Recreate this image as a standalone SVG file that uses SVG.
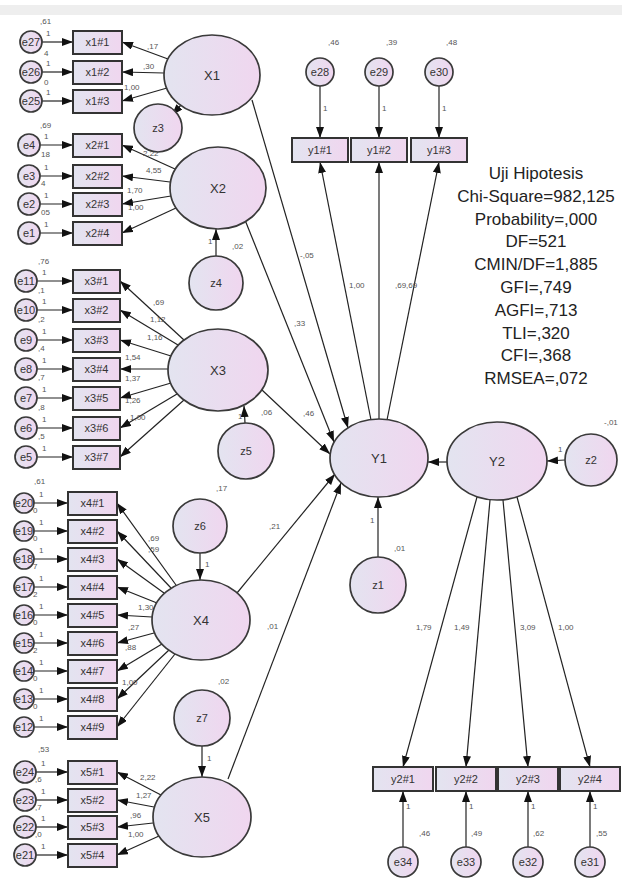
<svg xmlns="http://www.w3.org/2000/svg" width="622" height="879" viewBox="0 0 622 879">
<style>
.n{stroke:#3a3a3a;stroke-width:1.7;fill:url(#g)}
.b{stroke:#333;stroke-width:2;fill:url(#g)}
.c{stroke:#222;stroke-width:1.2;fill:none;marker-end:url(#a)}
.t{font-family:"Liberation Sans",Arial,sans-serif;font-size:11px;fill:#333;text-anchor:middle}
.L{font-family:"Liberation Sans",Arial,sans-serif;font-size:13px;fill:#333;text-anchor:middle}
.s{font-family:"Liberation Sans",Arial,sans-serif;font-size:8px;fill:#555}
.f{font-family:"Liberation Sans",Arial,sans-serif;font-size:17px;fill:#222;text-anchor:middle}
</style>
<defs>
<linearGradient id="g" x1="0" y1="0" x2="1" y2="0"><stop offset="0" stop-color="#e3e4f0"/><stop offset="1" stop-color="#f0d6ef"/></linearGradient>
<marker id="a" markerWidth="11" markerHeight="8" refX="11" refY="4" orient="auto" markerUnits="userSpaceOnUse"><path d="M0,0 L11,4 L0,8 z" fill="#111"/></marker>
</defs>
<rect x="0" y="5" width="622" height="10" fill="#eeeeee"/>

<g id="connectors">
<line class="c" x1="42" y1="42" x2="73" y2="42"/><line class="c" x1="42" y1="72" x2="73" y2="72"/><line class="c" x1="42" y1="101" x2="73" y2="101"/>
<line class="c" x1="40" y1="145" x2="73" y2="145"/><line class="c" x1="40" y1="176" x2="73" y2="176"/><line class="c" x1="40" y1="204" x2="73" y2="204"/><line class="c" x1="40" y1="233" x2="73" y2="233"/>
<line class="c" x1="37" y1="281" x2="73" y2="281"/><line class="c" x1="37" y1="310" x2="73" y2="310"/><line class="c" x1="37" y1="340" x2="73" y2="340"/><line class="c" x1="37" y1="369" x2="73" y2="369"/><line class="c" x1="37" y1="398" x2="73" y2="398"/><line class="c" x1="37" y1="428" x2="73" y2="428"/><line class="c" x1="37" y1="457" x2="73" y2="457"/>
<line class="c" x1="34" y1="503" x2="68" y2="503"/><line class="c" x1="34" y1="531" x2="68" y2="531"/><line class="c" x1="34" y1="559" x2="68" y2="559"/><line class="c" x1="34" y1="587" x2="68" y2="587"/><line class="c" x1="34" y1="615" x2="68" y2="615"/><line class="c" x1="34" y1="643" x2="68" y2="643"/><line class="c" x1="34" y1="671" x2="68" y2="671"/><line class="c" x1="34" y1="699" x2="68" y2="699"/><line class="c" x1="34" y1="727" x2="68" y2="727"/>
<line class="c" x1="36" y1="772" x2="68" y2="772"/><line class="c" x1="36" y1="800" x2="68" y2="800"/><line class="c" x1="36" y1="827" x2="68" y2="827"/><line class="c" x1="36" y1="855" x2="68" y2="855"/>
<line class="c" x1="168" y1="59" x2="122" y2="42"/><line class="c" x1="164" y1="73" x2="122" y2="72"/><line class="c" x1="167" y1="88" x2="122" y2="101"/>
<line class="c" x1="175" y1="169" x2="122" y2="145"/><line class="c" x1="170" y1="182" x2="122" y2="176"/><line class="c" x1="171" y1="196" x2="122" y2="204"/><line class="c" x1="176" y1="208" x2="122" y2="233"/>
<line class="c" x1="184" y1="340" x2="120" y2="281"/><line class="c" x1="178" y1="345" x2="120" y2="310"/><line class="c" x1="171" y1="356" x2="120" y2="340"/><line class="c" x1="168" y1="369" x2="120" y2="369"/><line class="c" x1="171" y1="383" x2="120" y2="398"/><line class="c" x1="177" y1="394" x2="120" y2="428"/><line class="c" x1="184" y1="400" x2="120" y2="457"/>
<line class="c" x1="176" y1="585" x2="117" y2="503"/><line class="c" x1="171" y1="588" x2="117" y2="531"/><line class="c" x1="164" y1="593" x2="117" y2="559"/><line class="c" x1="157" y1="603" x2="117" y2="587"/><line class="c" x1="152" y1="617" x2="117" y2="615"/><line class="c" x1="154" y1="633" x2="117" y2="643"/><line class="c" x1="162" y1="644" x2="117" y2="671"/><line class="c" x1="169" y1="650" x2="117" y2="699"/><line class="c" x1="175" y1="654" x2="117" y2="727"/>
<line class="c" x1="161" y1="795" x2="117" y2="772"/><line class="c" x1="154" y1="807" x2="117" y2="800"/><line class="c" x1="153" y1="823" x2="117" y2="827"/><line class="c" x1="159" y1="836" x2="117" y2="855"/>
<line class="c" x1="181" y1="105" x2="172" y2="115"/>
<line class="c" x1="216" y1="256" x2="216" y2="229"/>
<line class="c" x1="245" y1="423" x2="244" y2="406"/>
<line class="c" x1="200" y1="553" x2="200" y2="580"/>
<line class="c" x1="202" y1="746" x2="202" y2="777"/>
<line class="c" x1="378" y1="557" x2="378" y2="497"/>
<line class="c" x1="565" y1="460" x2="547" y2="461"/>
<line class="c" x1="447" y1="462" x2="428" y2="462"/>
<line class="c" x1="252" y1="100" x2="348" y2="428"/>
<line class="c" x1="245" y1="220" x2="334" y2="442"/>
<line class="c" x1="262" y1="390" x2="330" y2="454"/>
<line class="c" x1="237" y1="593" x2="335" y2="474"/>
<line class="c" x1="228" y1="779" x2="341" y2="483"/>
<line class="c" x1="371" y1="420" x2="320" y2="162"/>
<line class="c" x1="379" y1="419" x2="379" y2="162"/>
<line class="c" x1="387" y1="420" x2="439" y2="162"/>
<line class="c" x1="320" y1="86" x2="320" y2="138"/>
<line class="c" x1="379" y1="86" x2="379" y2="138"/>
<line class="c" x1="439" y1="86" x2="439" y2="138"/>
<line class="c" x1="477" y1="497" x2="403" y2="767"/>
<line class="c" x1="490" y1="500" x2="466" y2="767"/>
<line class="c" x1="503" y1="500" x2="528" y2="767"/>
<line class="c" x1="517" y1="497" x2="590" y2="767"/>
<line class="c" x1="403" y1="847" x2="403" y2="791"/>
<line class="c" x1="466" y1="847" x2="466" y2="791"/>
<line class="c" x1="528" y1="847" x2="528" y2="791"/>
<line class="c" x1="590" y1="847" x2="590" y2="791"/>
</g>

<g id="path-labels">
<text class="s" x="46" y="36">1</text><text class="s" x="46" y="66">1</text><text class="s" x="46" y="95">1</text>
<text class="s" x="44" y="139">1</text><text class="s" x="44" y="170">1</text><text class="s" x="44" y="198">1</text><text class="s" x="44" y="227">1</text>
<text class="s" x="42" y="275">1</text><text class="s" x="42" y="304">1</text><text class="s" x="42" y="334">1</text><text class="s" x="42" y="363">1</text><text class="s" x="42" y="392">1</text><text class="s" x="42" y="422">1</text><text class="s" x="42" y="451">1</text>
<text class="s" x="39" y="497">1</text><text class="s" x="39" y="525">1</text><text class="s" x="39" y="553">1</text><text class="s" x="39" y="581">1</text><text class="s" x="39" y="609">1</text><text class="s" x="39" y="637">1</text><text class="s" x="39" y="665">1</text><text class="s" x="39" y="693">1</text><text class="s" x="39" y="721">1</text>
<text class="s" x="41" y="766">1</text><text class="s" x="41" y="794">1</text><text class="s" x="41" y="821">1</text><text class="s" x="41" y="849">1</text>
<text class="s" x="147" y="49">,17</text><text class="s" x="143" y="69">,30</text><text class="s" x="124" y="90">1,00</text>
<text class="s" x="143" y="156">2,22</text><text class="s" x="146" y="173">4,55</text><text class="s" x="127" y="193">1,70</text><text class="s" x="128" y="210">1,00</text>
<text class="s" x="153" y="305">,69</text><text class="s" x="150" y="322">1,12</text><text class="s" x="147" y="340">1,16</text><text class="s" x="125" y="360">1,54</text><text class="s" x="125" y="381">1,37</text><text class="s" x="125" y="403">1,26</text><text class="s" x="130" y="420">1,00</text>
<text class="s" x="148" y="541">,69</text><text class="s" x="148" y="552">,59</text><text class="s" x="138" y="610">1,30</text><text class="s" x="128" y="630">,27</text><text class="s" x="125" y="650">,88</text><text class="s" x="122" y="685">1,00</text>
<text class="s" x="140" y="780">2,22</text><text class="s" x="136" y="798">1,27</text><text class="s" x="130" y="818">,96</text><text class="s" x="128" y="837">1,00</text>
<text class="s" x="208" y="244">1</text><text class="s" x="238" y="419">1</text><text class="s" x="205" y="567">1</text><text class="s" x="207" y="761">1</text><text class="s" x="370" y="523">1</text><text class="s" x="558" y="452">1</text>
<text class="s" x="300" y="258">-,05</text><text class="s" x="294" y="326">,33</text><text class="s" x="303" y="416">,46</text><text class="s" x="269" y="529">,21</text><text class="s" x="267" y="629">,01</text>
<text class="s" x="349" y="288">1,00</text><text class="s" x="395" y="288">,69,69</text>
<text class="s" x="449" y="461">,4</text>
<text class="s" x="323" y="111">1</text><text class="s" x="382" y="111">1</text><text class="s" x="442" y="111">1</text>
<text class="s" x="416" y="630">1,79</text><text class="s" x="454" y="630">1,49</text><text class="s" x="520" y="630">3,09</text><text class="s" x="558" y="630">1,00</text>
<text class="s" x="406" y="809">1</text><text class="s" x="469" y="809">1</text><text class="s" x="531" y="809">1</text><text class="s" x="593" y="809">1</text>
</g>

<g id="variances">
<text class="s" x="40" y="24">,61</text><text class="s" x="44" y="56">4</text><text class="s" x="44" y="85">0</text>
<text class="s" x="40" y="128">,69</text><text class="s" x="41" y="157">18</text><text class="s" x="41" y="186">4</text><text class="s" x="41" y="215">05</text>
<text class="s" x="38" y="264">,76</text><text class="s" x="38" y="293">,1</text><text class="s" x="38" y="322">,2</text><text class="s" x="38" y="351">,4</text><text class="s" x="38" y="380">,7</text><text class="s" x="38" y="410">,8</text><text class="s" x="38" y="439">,5</text>
<text class="s" x="34" y="484">,61</text><text class="s" x="33" y="513">0</text><text class="s" x="33" y="541">0</text><text class="s" x="33" y="569">7</text><text class="s" x="33" y="597">2</text><text class="s" x="33" y="625">0</text><text class="s" x="33" y="653">2</text><text class="s" x="33" y="681">0</text><text class="s" x="33" y="709">0</text>
<text class="s" x="38" y="752">,53</text><text class="s" x="35" y="782">,6</text><text class="s" x="35" y="810">,7</text><text class="s" x="35" y="837">,0</text>
<text class="s" x="170" y="97">,53</text><text class="s" x="232" y="249">,02</text><text class="s" x="261" y="415">,06</text><text class="s" x="216" y="491">,17</text><text class="s" x="218" y="684">,02</text><text class="s" x="394" y="551">,01</text><text class="s" x="604" y="425">-,01</text>
<text class="s" x="328" y="45">,46</text><text class="s" x="386" y="45">,39</text><text class="s" x="446" y="45">,48</text>
<text class="s" x="419" y="836">,46</text><text class="s" x="471" y="836">,49</text><text class="s" x="533" y="836">,62</text><text class="s" x="596" y="836">,55</text>
</g>

<g id="e27"><circle class="n" cx="31" cy="42" r="11"/><text class="t" x="31" y="46">e27</text></g>
<g id="e26"><circle class="n" cx="31" cy="72" r="11"/><text class="t" x="31" y="76">e26</text></g>
<g id="e25"><circle class="n" cx="31" cy="101" r="11"/><text class="t" x="31" y="105">e25</text></g>
<g id="e4"><circle class="n" cx="29" cy="145" r="11"/><text class="t" x="29" y="149">e4</text></g>
<g id="e3"><circle class="n" cx="29" cy="176" r="11"/><text class="t" x="29" y="180">e3</text></g>
<g id="e2"><circle class="n" cx="29" cy="204" r="11"/><text class="t" x="29" y="208">e2</text></g>
<g id="e1"><circle class="n" cx="29" cy="233" r="11"/><text class="t" x="29" y="237">e1</text></g>
<g id="e11"><circle class="n" cx="26" cy="281" r="11"/><text class="t" x="26" y="285">e11</text></g>
<g id="e10"><circle class="n" cx="26" cy="310" r="11"/><text class="t" x="26" y="314">e10</text></g>
<g id="e9"><circle class="n" cx="26" cy="340" r="11"/><text class="t" x="26" y="344">e9</text></g>
<g id="e8"><circle class="n" cx="26" cy="369" r="11"/><text class="t" x="26" y="373">e8</text></g>
<g id="e7"><circle class="n" cx="26" cy="398" r="11"/><text class="t" x="26" y="402">e7</text></g>
<g id="e6"><circle class="n" cx="26" cy="428" r="11"/><text class="t" x="26" y="432">e6</text></g>
<g id="e5"><circle class="n" cx="26" cy="457" r="11"/><text class="t" x="26" y="461">e5</text></g>
<g id="e20"><circle class="n" cx="24" cy="503" r="10"/><text class="t" x="24" y="507">e20</text></g>
<g id="e19"><circle class="n" cx="24" cy="531" r="10"/><text class="t" x="24" y="535">e19</text></g>
<g id="e18"><circle class="n" cx="24" cy="559" r="10"/><text class="t" x="24" y="563">e18</text></g>
<g id="e17"><circle class="n" cx="24" cy="587" r="10"/><text class="t" x="24" y="591">e17</text></g>
<g id="e16"><circle class="n" cx="24" cy="615" r="10"/><text class="t" x="24" y="619">e16</text></g>
<g id="e15"><circle class="n" cx="24" cy="643" r="10"/><text class="t" x="24" y="647">e15</text></g>
<g id="e14"><circle class="n" cx="24" cy="671" r="10"/><text class="t" x="24" y="675">e14</text></g>
<g id="e13"><circle class="n" cx="24" cy="699" r="10"/><text class="t" x="24" y="703">e13</text></g>
<g id="e12"><circle class="n" cx="24" cy="727" r="10"/><text class="t" x="24" y="731">e12</text></g>
<g id="e24"><circle class="n" cx="25" cy="772" r="11"/><text class="t" x="25" y="776">e24</text></g>
<g id="e23"><circle class="n" cx="25" cy="800" r="11"/><text class="t" x="25" y="804">e23</text></g>
<g id="e22"><circle class="n" cx="25" cy="827" r="11"/><text class="t" x="25" y="831">e22</text></g>
<g id="e21"><circle class="n" cx="25" cy="855" r="11"/><text class="t" x="25" y="859">e21</text></g>

<g id="x1_1"><rect class="b" x="73" y="31" width="49" height="23"/><text class="t" x="97.5" y="46">x1#1</text></g>
<g id="x1_2"><rect class="b" x="73" y="61" width="49" height="23"/><text class="t" x="97.5" y="76">x1#2</text></g>
<g id="x1_3"><rect class="b" x="73" y="90" width="49" height="23"/><text class="t" x="97.5" y="105">x1#3</text></g>
<g id="x2_1"><rect class="b" x="73" y="134" width="49" height="23"/><text class="t" x="97.5" y="149">x2#1</text></g>
<g id="x2_2"><rect class="b" x="73" y="165" width="49" height="23"/><text class="t" x="97.5" y="180">x2#2</text></g>
<g id="x2_3"><rect class="b" x="73" y="193" width="49" height="23"/><text class="t" x="97.5" y="208">x2#3</text></g>
<g id="x2_4"><rect class="b" x="73" y="222" width="49" height="23"/><text class="t" x="97.5" y="237">x2#4</text></g>
<g id="x3_1"><rect class="b" x="73" y="270" width="47" height="23"/><text class="t" x="96.5" y="285">x3#1</text></g>
<g id="x3_2"><rect class="b" x="73" y="299" width="47" height="23"/><text class="t" x="96.5" y="314">x3#2</text></g>
<g id="x3_3"><rect class="b" x="73" y="329" width="47" height="23"/><text class="t" x="96.5" y="344">x3#3</text></g>
<g id="x3_4"><rect class="b" x="73" y="358" width="47" height="23"/><text class="t" x="96.5" y="373">x3#4</text></g>
<g id="x3_5"><rect class="b" x="73" y="387" width="47" height="23"/><text class="t" x="96.5" y="402">x3#5</text></g>
<g id="x3_6"><rect class="b" x="73" y="417" width="47" height="23"/><text class="t" x="96.5" y="432">x3#6</text></g>
<g id="x3_7"><rect class="b" x="73" y="446" width="47" height="23"/><text class="t" x="96.5" y="461">x3#7</text></g>
<g id="x4_1"><rect class="b" x="68" y="492" width="49" height="23"/><text class="t" x="92.5" y="507">x4#1</text></g>
<g id="x4_2"><rect class="b" x="68" y="520" width="49" height="23"/><text class="t" x="92.5" y="535">x4#2</text></g>
<g id="x4_3"><rect class="b" x="68" y="548" width="49" height="23"/><text class="t" x="92.5" y="563">x4#3</text></g>
<g id="x4_4"><rect class="b" x="68" y="576" width="49" height="23"/><text class="t" x="92.5" y="591">x4#4</text></g>
<g id="x4_5"><rect class="b" x="68" y="604" width="49" height="23"/><text class="t" x="92.5" y="619">x4#5</text></g>
<g id="x4_6"><rect class="b" x="68" y="632" width="49" height="23"/><text class="t" x="92.5" y="647">x4#6</text></g>
<g id="x4_7"><rect class="b" x="68" y="660" width="49" height="23"/><text class="t" x="92.5" y="675">x4#7</text></g>
<g id="x4_8"><rect class="b" x="68" y="688" width="49" height="23"/><text class="t" x="92.5" y="703">x4#8</text></g>
<g id="x4_9"><rect class="b" x="68" y="716" width="49" height="23"/><text class="t" x="92.5" y="731">x4#9</text></g>
<g id="x5_1"><rect class="b" x="68" y="761" width="49" height="23"/><text class="t" x="92.5" y="776">x5#1</text></g>
<g id="x5_2"><rect class="b" x="68" y="789" width="49" height="23"/><text class="t" x="92.5" y="804">x5#2</text></g>
<g id="x5_3"><rect class="b" x="68" y="816" width="49" height="23"/><text class="t" x="92.5" y="831">x5#3</text></g>
<g id="x5_4"><rect class="b" x="68" y="844" width="49" height="23"/><text class="t" x="92.5" y="859">x5#4</text></g>

<g id="X1"><ellipse class="n" cx="212" cy="75" rx="48" ry="40"/><text class="L" x="212" y="80">X1</text></g>
<g id="z3"><circle class="n" cx="158" cy="128" r="24"/><text class="t" x="158" y="132">z3</text></g>
<g id="X2"><ellipse class="n" cx="218" cy="188" rx="48" ry="41"/><text class="L" x="218" y="193">X2</text></g>
<g id="z4"><circle class="n" cx="216" cy="283" r="27"/><text class="t" x="216" y="287">z4</text></g>
<g id="X3"><ellipse class="n" cx="218" cy="370" rx="50" ry="41"/><text class="L" x="218" y="375">X3</text></g>
<g id="z5"><circle class="n" cx="246" cy="451" r="28"/><text class="t" x="246" y="455">z5</text></g>
<g id="z6"><circle class="n" cx="200" cy="526" r="27"/><text class="t" x="200" y="530">z6</text></g>
<g id="X4"><ellipse class="n" cx="201" cy="620" rx="49" ry="40"/><text class="L" x="201" y="625">X4</text></g>
<g id="z7"><circle class="n" cx="202" cy="718" r="28"/><text class="t" x="202" y="722">z7</text></g>
<g id="X5"><ellipse class="n" cx="202" cy="817" rx="49" ry="40"/><text class="L" x="202" y="822">X5</text></g>
<g id="Y1"><ellipse class="n" cx="379" cy="458" rx="49" ry="39"/><text class="L" x="379" y="463">Y1</text></g>
<g id="Y2"><ellipse class="n" cx="497" cy="461" rx="50" ry="39"/><text class="L" x="497" y="466">Y2</text></g>
<g id="z1"><circle class="n" cx="378" cy="585" r="28"/><text class="t" x="378" y="589">z1</text></g>
<g id="z2"><circle class="n" cx="591" cy="460" r="26"/><text class="t" x="591" y="464">z2</text></g>

<g id="e28"><circle class="n" cx="320" cy="72" r="14"/><text class="t" x="320" y="76">e28</text></g>
<g id="e29"><circle class="n" cx="379" cy="72" r="14"/><text class="t" x="379" y="76">e29</text></g>
<g id="e30"><circle class="n" cx="439" cy="72" r="14"/><text class="t" x="439" y="76">e30</text></g>
<g id="y1_1"><rect class="b" x="292" y="138" width="56" height="24"/><text class="t" x="320" y="154">y1#1</text></g>
<g id="y1_2"><rect class="b" x="351" y="138" width="56" height="24"/><text class="t" x="379" y="154">y1#2</text></g>
<g id="y1_3"><rect class="b" x="411" y="138" width="56" height="24"/><text class="t" x="439" y="154">y1#3</text></g>

<g id="y2_1"><rect class="b" x="373" y="767" width="60" height="24"/><text class="t" x="403" y="783">y2#1</text></g>
<g id="y2_2"><rect class="b" x="436" y="767" width="60" height="24"/><text class="t" x="466" y="783">y2#2</text></g>
<g id="y2_3"><rect class="b" x="498" y="767" width="60" height="24"/><text class="t" x="528" y="783">y2#3</text></g>
<g id="y2_4"><rect class="b" x="560" y="767" width="60" height="24"/><text class="t" x="590" y="783">y2#4</text></g>
<g id="e34"><circle class="n" cx="403" cy="862" r="15"/><text class="t" x="403" y="866">e34</text></g>
<g id="e33"><circle class="n" cx="466" cy="862" r="15"/><text class="t" x="466" y="866">e33</text></g>
<g id="e32"><circle class="n" cx="528" cy="862" r="15"/><text class="t" x="528" y="866">e32</text></g>
<g id="e31"><circle class="n" cx="590" cy="862" r="15"/><text class="t" x="590" y="866">e31</text></g>

<g id="fit-stats">
<text class="f" x="536" y="179">Uji Hipotesis</text>
<text class="f" x="536" y="202">Chi-Square=982,125</text>
<text class="f" x="536" y="225">Probability=,000</text>
<text class="f" x="536" y="247">DF=521</text>
<text class="f" x="536" y="270">CMIN/DF=1,885</text>
<text class="f" x="536" y="293">GFI=,749</text>
<text class="f" x="536" y="316">AGFI=,713</text>
<text class="f" x="536" y="339">TLI=,320</text>
<text class="f" x="536" y="361">CFI=,368</text>
<text class="f" x="536" y="384">RMSEA=,072</text>
</g>
</svg>
